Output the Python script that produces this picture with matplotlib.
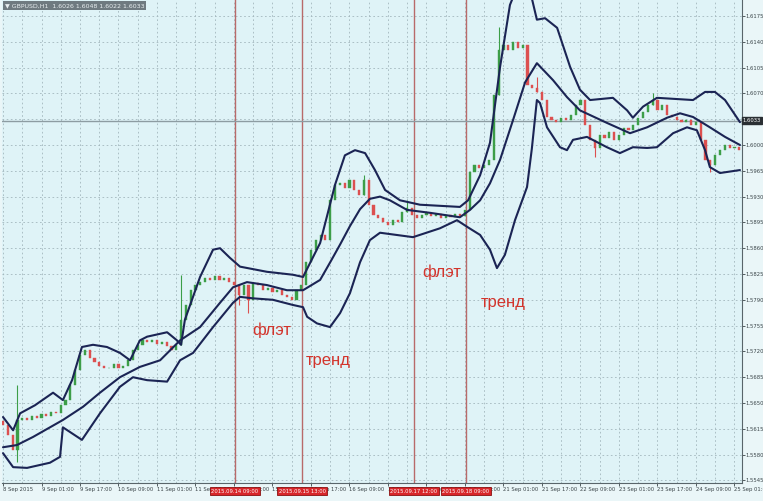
import numpy as np
import matplotlib.pyplot as plt
from matplotlib import transforms

# GBPUSD H1, candles drawn every 2 hours, time in trading hours since 8 Sep 09:00
first_open = 1.5625
closes = [
    1.5620, 1.5607, 1.5586, 1.5627, 1.5630, 1.5627, 1.5632, 1.5630, 1.5635, 1.5632,
    1.5638, 1.5636, 1.5647, 1.5654, 1.5674, 1.5695, 1.5715, 1.5722, 1.5711, 1.5706,
    1.5700, 1.5697, 1.5697, 1.5703, 1.5697, 1.5700, 1.5708, 1.5722, 1.5729, 1.5735,
    1.5733, 1.5735, 1.5730, 1.5733, 1.5727, 1.5722, 1.5729, 1.5763, 1.5783, 1.5803,
    1.5810, 1.5814, 1.5820, 1.5817, 1.5822, 1.5817, 1.5820, 1.5814, 1.5810, 1.5797,
    1.5810, 1.5790, 1.5813, 1.5810, 1.5803, 1.5806, 1.5801, 1.5803, 1.5797, 1.5794,
    1.5790, 1.5803, 1.5810, 1.5841, 1.5858, 1.5871, 1.5878, 1.5871, 1.5925, 1.5946,
    1.5948, 1.5942, 1.5953, 1.5939, 1.5932, 1.5953, 1.5919, 1.5905, 1.5901, 1.5896,
    1.5891, 1.5898, 1.5896, 1.5909, 1.5915, 1.5905, 1.5901, 1.5905, 1.5908, 1.5904,
    1.5906, 1.5901, 1.5905, 1.5902, 1.5906, 1.5904, 1.5912, 1.5963, 1.5973, 1.5969,
    1.5973, 1.5980, 1.6068, 1.6129, 1.6136, 1.6129, 1.6140, 1.6132, 1.6136, 1.6081,
    1.6077, 1.6072, 1.6061, 1.6038, 1.6034, 1.6031, 1.6037, 1.6034, 1.6041, 1.6054,
    1.6061, 1.6027, 1.6007, 1.5996, 1.6014, 1.6010, 1.6018, 1.6007, 1.6014, 1.6023,
    1.6020, 1.6027, 1.6037, 1.6045, 1.6054, 1.6061, 1.6047, 1.6054, 1.6041, 1.6038,
    1.6034, 1.6031, 1.6034, 1.6027, 1.6031, 1.6007, 1.5980, 1.5973, 1.5986, 1.5993,
    1.6000, 1.5996, 1.5997, 1.5993,
]
candle_hours = 2

# long shadows that stand out
spike_idx = [3, 37, 49, 51, 75, 84, 103, 111, 123, 135, 147]
spike_hi = [1.5674, 1.5824, None, None, 1.5959, 1.5925, 1.6160, 1.6092, None, 1.6071, None]
spike_lo = [1.5570, None, 1.5783, 1.5772, None, None, None, None, 1.5984, None, 1.5963]

upper_t = [0.0, 4.2, 7.1, 13.3, 20.8, 24.9, 28.7, 32.8, 37.4, 43.2, 48.6, 52.8, 56.9, 59.9,
           68.2, 72.3, 74.0, 75.6, 81.9, 87.3, 90.2, 94.3, 98.5, 109.7, 120.5, 124.7, 131.8,
           138.0, 142.1, 146.3, 150.5, 154.6, 158.8, 165.0, 173.3, 189.9, 193.3, 198.3, 202.4,
           206.6, 210.7, 214.9, 219.0, 221.9, 225.3, 230.3, 235.7, 239.8, 244.0, 253.5, 259.4,
           261.8, 266.0, 271.8, 286.8, 291.8, 295.9, 300.1, 306.3]
upper = [1.5631, 1.5613, 1.5636, 1.5647, 1.5664, 1.5654, 1.5681, 1.5726, 1.5729, 1.5726,
         1.5718, 1.5708, 1.5735, 1.5740, 1.5746, 1.5735, 1.5729, 1.5763, 1.5821, 1.5858,
         1.5860, 1.5847, 1.5835, 1.5828, 1.5824, 1.5821, 1.5867, 1.5946, 1.5986, 1.5993,
         1.5989, 1.5966, 1.5939, 1.5925, 1.5919, 1.5916, 1.5925, 1.5959, 1.6003, 1.6106,
         1.6190, 1.6224, 1.6210, 1.6170, 1.6172, 1.6159, 1.6106, 1.6075, 1.6061, 1.6064,
         1.6047, 1.6037, 1.6052, 1.6064, 1.6061, 1.6072, 1.6072, 1.6061, 1.6031]

middle_t = [0.0, 5.8, 12.5, 24.9, 33.3, 40.3, 48.6, 56.9, 65.3, 73.6, 81.9, 90.2, 95.6,
            101.4, 109.7, 118.0, 124.7, 131.8, 136.0, 140.1, 144.2, 148.4, 152.5, 156.7,
            160.8, 167.9, 177.5, 189.9, 194.1, 198.3, 202.4, 206.6, 212.0, 217.0, 221.9,
            228.6, 234.4, 239.8, 251.0, 260.6, 267.7, 276.0, 281.4, 286.8, 293.8, 300.1, 306.3]
middle = [1.5590, 1.5593, 1.5604, 1.5627, 1.5645, 1.5664, 1.5685, 1.5699, 1.5708, 1.5735,
          1.5753, 1.5786, 1.5807, 1.5814, 1.5810, 1.5803, 1.5803, 1.5817, 1.5841, 1.5865,
          1.5890, 1.5913, 1.5927, 1.5930, 1.5925, 1.5912, 1.5908, 1.5902, 1.5912, 1.5925,
          1.5948, 1.5980, 1.6034, 1.6085, 1.6111, 1.6088, 1.6065, 1.6047, 1.6030, 1.6016,
          1.6024, 1.6037, 1.6043, 1.6038, 1.6024, 1.6011, 1.6000]

lower_t = [0.0, 4.2, 10.0, 19.5, 23.7, 24.9, 32.8, 40.3, 48.6, 54.0, 59.9, 68.2, 73.6, 79.0,
           87.3, 95.6, 98.5, 103.9, 112.2, 120.5, 124.7, 126.4, 130.5, 135.9, 140.1, 144.2,
           148.4, 152.5, 156.7, 170.4, 181.6, 188.7, 192.9, 198.3, 202.4, 205.3, 208.6, 212.8,
           217.8, 219.8, 221.9, 223.2, 226.1, 231.5, 234.4, 236.9, 242.7, 251.0, 256.4, 261.8,
           267.7, 271.8, 278.5, 284.3, 288.4, 291.8, 293.8, 298.0, 306.3]
lower = [1.5582, 1.5563, 1.5562, 1.5569, 1.5577, 1.5617, 1.5600, 1.5636, 1.5672, 1.5685,
         1.5681, 1.5679, 1.5708, 1.5718, 1.5753, 1.5786, 1.5794, 1.5792, 1.5790, 1.5783,
         1.5780, 1.5767, 1.5758, 1.5753, 1.5772, 1.5799, 1.5841, 1.5871, 1.5881, 1.5875,
         1.5887, 1.5898, 1.5889, 1.5878, 1.5858, 1.5833, 1.5851, 1.5898, 1.5943, 1.5995,
         1.6061, 1.6057, 1.6024, 1.5997, 1.5993, 1.6007, 1.6011, 1.5997, 1.5989, 1.5997,
         1.5996, 1.5997, 1.6016, 1.6024, 1.6020, 1.5993, 1.5970, 1.5962, 1.5966]

tick_hours = list(range(0, 305, 16))
tick_labels = ['8 Sep 2015', '9 Sep 01:00', '9 Sep 17:00', '10 Sep 09:00', '11 Sep 01:00',
               '11 Sep 17:00', '14 Sep 09:00', '15 Sep 01:00', '15 Sep 17:00', '16 Sep 09:00',
               '17 Sep 01:00', '17 Sep 17:00', '18 Sep 09:00', '21 Sep 01:00', '21 Sep 17:00',
               '22 Sep 09:00', '23 Sep 01:00', '23 Sep 17:00', '24 Sep 09:00', '25 Sep 01:00']
price_ticks = [1.5545 + 0.0035 * k for k in range(19)]

marker_hours = [96.4, 124.3, 170.8, 192.4]
marker_labels = ['2015.09.14 09:00', '2015.09.15 13:00', '2015.09.17 12:00', '2015.09.18 09:00']

notes = [('флэт', 111.8, 1.5749), ('тренд', 135.1, 1.5708),
         ('флэт', 182.5, 1.5828), ('тренд', 207.8, 1.5787)]

last_price = 1.6033
header = '\u25bc GBPUSD,H1  1.6026 1.6048 1.6022 1.6033'

fig = plt.figure(figsize=(7.63, 5.01), dpi=100, facecolor='#eaf6f8')
ax = fig.add_axes([2 / 763, 18 / 501, 740 / 763, 483 / 501])
ax.set_facecolor('#dff3f7')
ax.set_xlim(-0.42, 307.15)
ax.set_ylim(1.55415, 1.61967)

# grid
for h in range(0, 308, 8):
    ax.axvline(h, color='#a3b7bd', lw=0.6, ls=(0, (2, 3)), zorder=0)
for p in price_ticks:
    ax.axhline(p, color='#a3b7bd', lw=0.6, ls=(0, (2, 3)), zorder=0)

for h in marker_hours:
    ax.axvline(h, color='#b86a6a', lw=1.0, zorder=1)
ax.axhline(last_price, color='#8d9ca2', lw=1.0, zorder=1)

# candles
opens = [first_open] + closes[:-1]
t = np.arange(len(closes)) * candle_hours
for i in range(len(closes)):
    o, c = opens[i], closes[i]
    col = '#3c9e48' if c >= o else '#dc5050'
    lo, hi = min(o, c), max(o, c)
    ax.bar(t[i], max(hi - lo, 0.00005), bottom=lo, width=0.9, color=col,
           edgecolor=col, lw=0.3, zorder=2)
for i, hi, lo in zip(spike_idx, spike_hi, spike_lo):
    o, c = opens[i], closes[i]
    col = '#3c9e48' if c >= o else '#dc5050'
    top = hi if hi is not None else max(o, c)
    bot = lo if lo is not None else min(o, c)
    ax.vlines(t[i], bot, top, color=col, lw=0.8, zorder=2)

# bollinger bands
for bt, bv in [(upper_t, upper), (middle_t, middle), (lower_t, lower)]:
    ax.plot(bt, bv, color='#1b2454', lw=1.5, zorder=3, solid_capstyle='round')

for txt, h, p in notes:
    ax.text(h, p, txt, color='#d2342c', fontsize=12, family='Liberation Sans',
            ha='center', va='center', zorder=4)

# axes
ax.yaxis.tick_right()
ax.set_yticks(price_ticks)
ax.set_yticklabels(['%.4f' % p for p in price_ticks])
ax.set_xticks(tick_hours)
ax.set_xticklabels(tick_labels, ha='left')
ax.tick_params(axis='both', labelsize=3.8, colors='#3a4448', length=1.8, width=0.6, pad=0.8)
for s in ['top', 'left']:
    ax.spines[s].set_visible(False)
for s in ['right', 'bottom']:
    ax.spines[s].set_color('#59656a')
    ax.spines[s].set_linewidth(0.8)

trans = transforms.blended_transform_factory(ax.transData, ax.transAxes)
for h, lab in zip(marker_hours, marker_labels):
    ax.text(h, -0.017, lab, transform=trans, ha='center', va='center', fontsize=3.8,
            color='white', clip_on=False, zorder=5,
            bbox=dict(boxstyle='square,pad=0.25', fc='#d8262a', ec='#8a1010', lw=0.6))

ax.text(1.001, last_price, '%.4f' % last_price, transform=ax.get_yaxis_transform(),
        ha='left', va='center', fontsize=3.8, color='white', clip_on=False, zorder=5,
        bbox=dict(boxstyle='square,pad=0.15', fc='#2a2f33', ec='#2a2f33'))

fig.text(0.006, 0.994, header, ha='left', va='top', fontsize=4.5, color='#e8eef0',
         bbox=dict(boxstyle='square,pad=0.3', fc='#6f7a80', ec='none'))

fig.savefig('out.png', dpi=100, facecolor=fig.get_facecolor())
